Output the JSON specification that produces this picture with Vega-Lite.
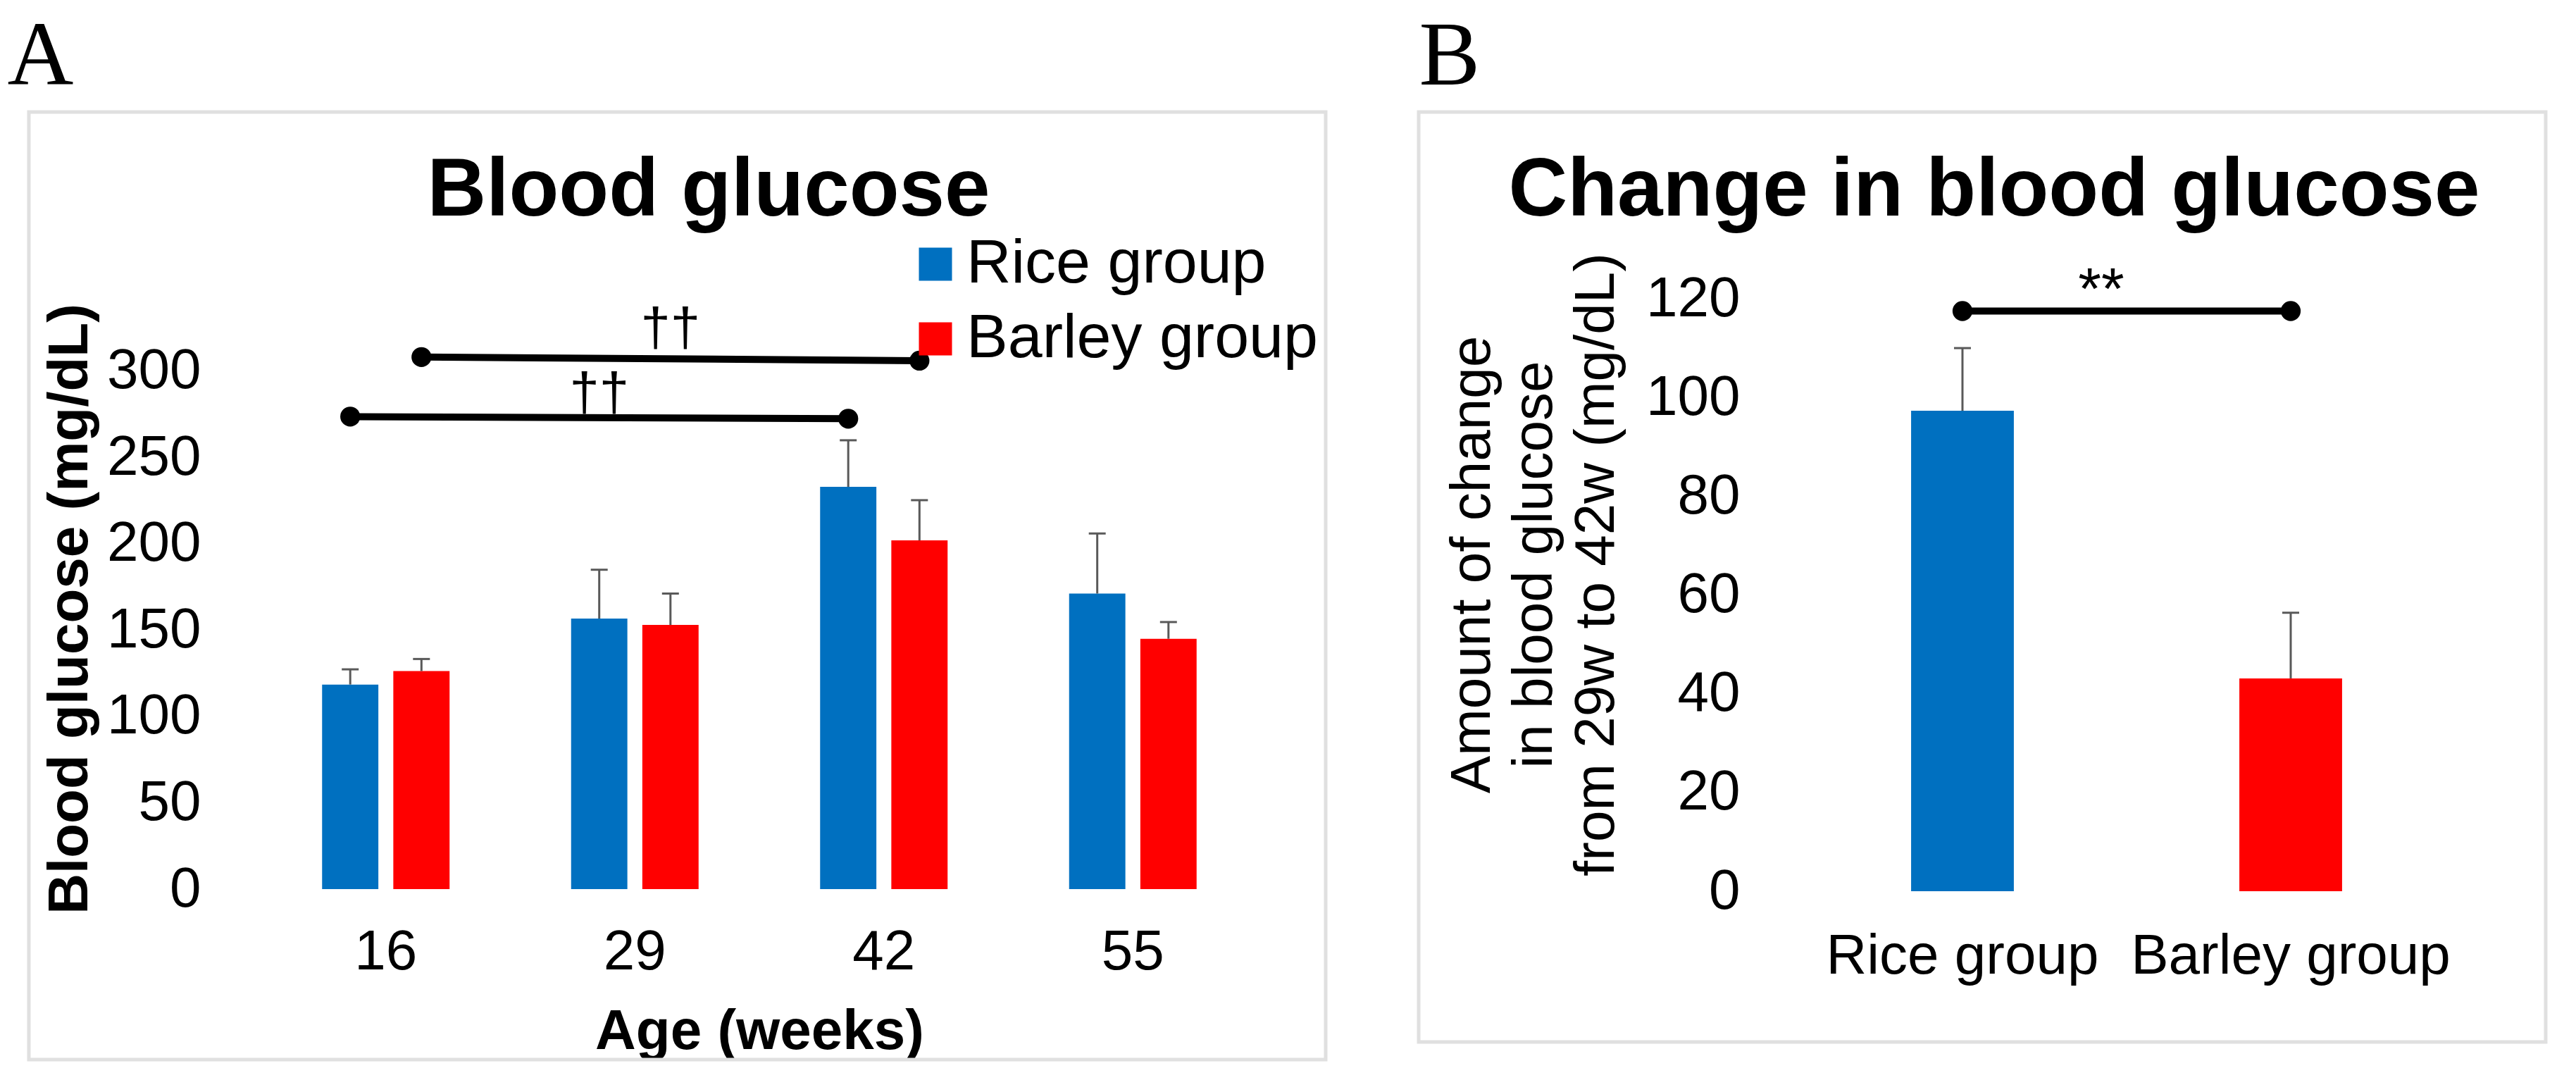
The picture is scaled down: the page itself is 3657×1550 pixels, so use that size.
{
  "$schema": "https://vega.github.io/schema/vega-lite/v6.json",
  "background": "white",
  "padding": {"left": 10, "top": 15, "right": 0, "bottom": 0},
  "config": {
    "font": "Liberation Sans",
    "view": {"stroke": null},
    "axis": {"domain": false, "ticks": false, "tickSize": 0, "labelColor": "#000000", "titleColor": "#000000", "labelFont": "Liberation Sans", "titleFont": "Liberation Sans", "labelFontSize": 80, "titleFontSize": 80, "labelLimit": 1000},
    "axisX": {"grid": false},
    "axisY": {"grid": true, "gridColor": "#d9d9d9", "gridWidth": 3}
  },
  "datasets": {
    "glucose": [
      {"age": "16", "group": "Rice group", "glucose": 118.5, "upper": 127.3},
      {"age": "16", "group": "Barley group", "glucose": 126.3, "upper": 133.3},
      {"age": "29", "group": "Rice group", "glucose": 156.7, "upper": 185.0},
      {"age": "29", "group": "Barley group", "glucose": 153.0, "upper": 171.2},
      {"age": "42", "group": "Rice group", "glucose": 233.0, "upper": 260.0},
      {"age": "42", "group": "Barley group", "glucose": 202.0, "upper": 225.3},
      {"age": "55", "group": "Rice group", "glucose": 171.2, "upper": 206.0},
      {"age": "55", "group": "Barley group", "glucose": 145.0, "upper": 154.7}
    ],
    "bracketsA": [
      {"pair": "barley", "age": "16", "group": "Barley group", "level": 308.2},
      {"pair": "barley", "age": "42", "group": "Barley group", "level": 306.1},
      {"pair": "rice", "age": "16", "group": "Rice group", "level": 273.7},
      {"pair": "rice", "age": "42", "group": "Rice group", "level": 272.5}
    ],
    "labelsA": [
      {"age": "29", "group": "Barley group", "level": 324.6, "label": "††"},
      {"age": "29", "group": "Rice group", "level": 286.9, "label": "††"}
    ],
    "change": [
      {"group": "Rice group", "change": 97.3, "upper": 110.0},
      {"group": "Barley group", "change": 43.1, "upper": 56.4}
    ],
    "bracketsB": [
      {"pair": "rb", "group": "Rice group", "level": 117.5},
      {"pair": "rb", "group": "Barley group", "level": 117.5}
    ],
    "labelsB": [
      {"group": "Rice group", "level": 117.8, "label": "**"}
    ]
  },
  "spacing": 126,
  "resolve": {"scale": {"color": "independent", "xOffset": "independent"}},
  "hconcat": [
    {
      "title": {"text": "A", "font": "Liberation Serif", "fontSize": 130, "fontWeight": "normal", "anchor": "start", "frame": "bounds", "dx": -28, "offset": 10, "color": "#000000"},
      "resolve": {"scale": {"color": "independent", "xOffset": "independent"}},
      "hconcat": [
        {
          "title": {"text": "Blood glucose", "font": "Liberation Sans", "fontSize": 116, "fontWeight": "bold", "anchor": "middle", "frame": "group", "dx": -72, "offset": -173, "color": "#000000"},
          "width": 1414,
          "height": 838,
          "resolve": {"scale": {"x": "independent", "y": "independent"}},
          "layer": [
            {
              "data": {"values": [{}]},
              "mark": {"type": "rect", "filled": false, "stroke": "#e0e0e0", "strokeWidth": 5},
              "encoding": {
                "x": {"datum": -0.2334, "type": "quantitative", "scale": {"domain": [0, 1], "nice": false, "zero": false}, "axis": null},
                "x2": {"datum": 1.0686},
                "y": {"datum": -0.2888, "type": "quantitative", "scale": {"domain": [0, 1], "nice": false, "zero": false}, "axis": null},
                "y2": {"datum": 1.3162}
              }
            },
            {
              "encoding": {
                "x": {"field": "age", "type": "ordinal", "title": "Age (weeks)", "scale": {"paddingInner": 0.488, "paddingOuter": 0.244}, "axis": {"labelAngle": 0, "labelPadding": 50, "titlePadding": 34, "titleFontWeight": "bold"}},
                "xOffset": {"field": "group", "type": "nominal", "scale": {"domain": ["Rice group", "Barley group"], "paddingInner": 0.21, "paddingOuter": 0}}
              },
              "layer": [
                {
                  "data": {"name": "glucose"},
                  "mark": {"type": "bar"},
                  "encoding": {
                    "y": {"field": "glucose", "type": "quantitative", "title": "Blood glucose (mg/dL)", "scale": {"domain": [0, 342], "nice": false}, "axis": {"values": [0, 50, 100, 150, 200, 250, 300], "labelPadding": 86, "titleFontWeight": "bold", "titleX": -231, "titleY": 440}},
                    "color": {"field": "group", "type": "nominal", "scale": {"domain": ["Rice group", "Barley group"], "range": ["#0070C0", "#FF0000"]}, "legend": {"orient": "none", "legendX": 913, "legendY": -93, "title": null, "labelFontSize": 88, "labelFont": "Liberation Sans", "labelColor": "#000000", "labelLimit": 1000, "symbolType": "square", "symbolSize": 2209, "symbolStrokeWidth": 0, "labelOffset": 0, "rowPadding": 18, "padding": 0}}
                  }
                },
                {
                  "data": {"name": "glucose"},
                  "mark": {"type": "rule", "color": "#595959", "strokeWidth": 3},
                  "encoding": {
                    "y": {"field": "glucose", "type": "quantitative", "title": "Blood glucose (mg/dL)"},
                    "y2": {"field": "upper"}
                  }
                },
                {
                  "data": {"name": "glucose"},
                  "mark": {"type": "tick", "color": "#595959", "thickness": 3, "size": 24, "opacity": 1},
                  "encoding": {
                    "y": {"field": "upper", "type": "quantitative", "title": "Blood glucose (mg/dL)"}
                  }
                },
                {
                  "data": {"name": "bracketsA"},
                  "mark": {"type": "line", "color": "#000000", "strokeWidth": 10},
                  "encoding": {
                    "y": {"field": "level", "type": "quantitative", "title": "Blood glucose (mg/dL)"},
                    "detail": {"field": "pair"}
                  }
                },
                {
                  "data": {"name": "bracketsA"},
                  "mark": {"type": "point", "filled": true, "color": "#000000", "size": 800, "opacity": 1},
                  "encoding": {
                    "y": {"field": "level", "type": "quantitative", "title": "Blood glucose (mg/dL)"}
                  }
                },
                {
                  "data": {"name": "labelsA"},
                  "mark": {"type": "text", "fontSize": 76, "color": "#000000", "font": "Liberation Sans"},
                  "encoding": {
                    "y": {"field": "level", "type": "quantitative", "title": "Blood glucose (mg/dL)"},
                    "text": {"field": "label"}
                  }
                }
              ]
            }
          ]
        }
      ]
    },
    {
      "title": {"text": "B", "font": "Liberation Serif", "fontSize": 130, "fontWeight": "normal", "anchor": "start", "frame": "bounds", "dx": 3, "offset": 10, "color": "#000000"},
      "resolve": {"scale": {"color": "independent", "xOffset": "independent"}},
      "hconcat": [
        {
          "title": {"text": "Change in blood glucose", "font": "Liberation Sans", "fontSize": 116, "fontWeight": "bold", "anchor": "middle", "frame": "group", "dx": -188, "offset": -173, "color": "#000000"},
          "width": 932,
          "height": 841,
          "resolve": {"scale": {"x": "independent", "y": "independent"}},
          "layer": [
            {
              "data": {"values": [{}]},
              "mark": {"type": "rect", "filled": false, "stroke": "#e0e0e0", "strokeWidth": 5},
              "encoding": {
                "x": {"datum": -0.5783, "type": "quantitative", "scale": {"domain": [0, 1], "nice": false, "zero": false}, "axis": null},
                "x2": {"datum": 1.1384},
                "y": {"datum": -0.2545, "type": "quantitative", "scale": {"domain": [0, 1], "nice": false, "zero": false}, "axis": null},
                "y2": {"datum": 1.3151}
              }
            },
            {
              "encoding": {
                "x": {"field": "group", "type": "nominal", "sort": ["Rice group", "Barley group"], "title": null, "scale": {"paddingInner": 0.687, "paddingOuter": 0.3435}, "axis": {"labelAngle": 0, "labelPadding": 53}}
              },
              "layer": [
                {
                  "data": {"name": "change"},
                  "mark": {"type": "bar"},
                  "encoding": {
                    "y": {"field": "change", "type": "quantitative", "title": ["Amount of change", "in blood glucose", "from 29w to 42w (mg/dL)"], "scale": {"domain": [0, 120], "nice": false}, "axis": {"values": [0, 20, 40, 60, 80, 100, 120], "labelPadding": 83, "titleFontWeight": "normal", "titleLineHeight": 88, "titleX": -422, "titleY": 377}},
                    "color": {"field": "group", "type": "nominal", "scale": {"domain": ["Rice group", "Barley group"], "range": ["#0070C0", "#FF0000"]}, "legend": null}
                  }
                },
                {
                  "data": {"name": "change"},
                  "mark": {"type": "rule", "color": "#595959", "strokeWidth": 3},
                  "encoding": {
                    "y": {"field": "change", "type": "quantitative", "title": ["Amount of change", "in blood glucose", "from 29w to 42w (mg/dL)"]},
                    "y2": {"field": "upper"}
                  }
                },
                {
                  "data": {"name": "change"},
                  "mark": {"type": "tick", "color": "#595959", "thickness": 3, "size": 24, "opacity": 1},
                  "encoding": {
                    "y": {"field": "upper", "type": "quantitative", "title": ["Amount of change", "in blood glucose", "from 29w to 42w (mg/dL)"]}
                  }
                },
                {
                  "data": {"name": "bracketsB"},
                  "mark": {"type": "line", "color": "#000000", "strokeWidth": 10},
                  "encoding": {
                    "y": {"field": "level", "type": "quantitative", "title": ["Amount of change", "in blood glucose", "from 29w to 42w (mg/dL)"]},
                    "detail": {"field": "pair"}
                  }
                },
                {
                  "data": {"name": "bracketsB"},
                  "mark": {"type": "point", "filled": true, "color": "#000000", "size": 800, "opacity": 1},
                  "encoding": {
                    "y": {"field": "level", "type": "quantitative", "title": ["Amount of change", "in blood glucose", "from 29w to 42w (mg/dL)"]}
                  }
                },
                {
                  "data": {"name": "labelsB"},
                  "mark": {"type": "text", "fontSize": 84, "color": "#000000", "font": "Liberation Sans", "baseline": "alphabetic"},
                  "encoding": {
                    "x": {"field": "group", "type": "nominal", "sort": ["Rice group", "Barley group"], "bandPosition": 1.85, "title": null},
                    "y": {"field": "level", "type": "quantitative", "title": ["Amount of change", "in blood glucose", "from 29w to 42w (mg/dL)"]},
                    "text": {"field": "label"}
                  }
                }
              ]
            }
          ]
        }
      ]
    }
  ]
}
